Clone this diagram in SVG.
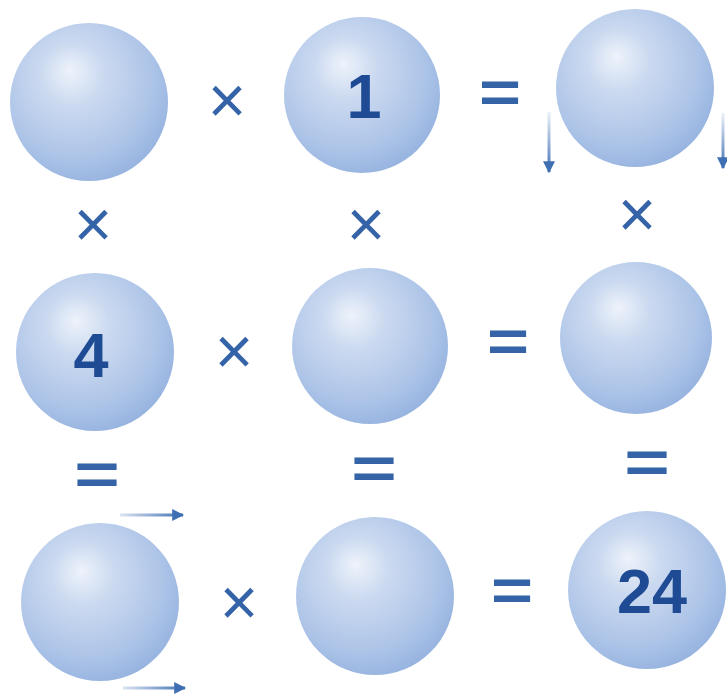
<svg xmlns="http://www.w3.org/2000/svg" width="727" height="697" viewBox="0 0 727 697">
<defs>
<radialGradient id="ball" cx="0.42" cy="0.38" r="0.64" fx="0.38" fy="0.3">
<stop offset="0" stop-color="#eef3fb"/>
<stop offset="0.3" stop-color="#ccdaf0"/>
<stop offset="0.75" stop-color="#aec5e8"/>
<stop offset="1" stop-color="#97b4e0"/>
</radialGradient>
<linearGradient id="v1" gradientUnits="userSpaceOnUse" x1="0" y1="112" x2="0" y2="172">
<stop offset="0" stop-color="#4a78b8" stop-opacity="0.1"/>
<stop offset="1" stop-color="#3f6fb3"/>
</linearGradient>
<linearGradient id="v2" gradientUnits="userSpaceOnUse" x1="0" y1="113" x2="0" y2="168">
<stop offset="0" stop-color="#4a78b8" stop-opacity="0.1"/>
<stop offset="1" stop-color="#3f6fb3"/>
</linearGradient>
<linearGradient id="h1" gradientUnits="userSpaceOnUse" x1="120" y1="0" x2="183" y2="0">
<stop offset="0" stop-color="#4a78b8" stop-opacity="0.2"/>
<stop offset="1" stop-color="#3f6fb3"/>
</linearGradient>
<linearGradient id="h2" gradientUnits="userSpaceOnUse" x1="123" y1="0" x2="185" y2="0">
<stop offset="0" stop-color="#4a78b8" stop-opacity="0.2"/>
<stop offset="1" stop-color="#3f6fb3"/>
</linearGradient>
<marker id="ah" viewBox="0 0 10 10" refX="9" refY="5" markerWidth="4" markerHeight="4" orient="auto" markerUnits="strokeWidth">
<path d="M0,0 L10,5 L0,10 z" fill="#3f6fb3"/>
</marker>
</defs>
<style>
.ball{fill:url(#ball)}
.op{font-family:"Liberation Sans",Arial,sans-serif;fill:#3563a8;text-anchor:middle}
.x{font-size:66px}
.eq{font-size:60px;font-weight:bold}
.num{font-family:"Liberation Sans",Arial,sans-serif;font-weight:bold;font-size:63px;fill:#1f4b95;text-anchor:middle}
</style>
<rect width="727" height="697" fill="#ffffff"/>
<g id="n11"><circle class="ball" cx="89" cy="102" r="79"/></g>
<g id="n12"><circle class="ball" cx="362" cy="95" r="78"/><text class="num" x="364" y="118">1</text></g>
<g id="n13"><circle class="ball" cx="635" cy="88" r="79"/></g>
<g id="n21"><circle class="ball" cx="95" cy="352" r="79"/><text class="num" x="91" y="377">4</text></g>
<g id="n22"><circle class="ball" cx="370" cy="346" r="78"/></g>
<g id="n23"><circle class="ball" cx="636" cy="338" r="76"/></g>
<g id="n31"><circle class="ball" cx="100" cy="602" r="79"/></g>
<g id="n32"><circle class="ball" cx="375" cy="596" r="79"/></g>
<g id="n33"><circle class="ball" cx="647" cy="590" r="79"/><text class="num" x="652" y="613">24</text></g>
<g id="ops">
<text class="op x" x="227" y="123">×</text>
<text class="op eq" x="500" y="112" transform="translate(500 0) scale(1.2 1) translate(-500 0)">=</text>
<text class="op x" x="93" y="247">×</text>
<text class="op x" x="366" y="247">×</text>
<text class="op x" x="637" y="237">×</text>
<text class="op x" x="234" y="374">×</text>
<text class="op eq" x="508" y="361" transform="translate(508 0) scale(1.2 1) translate(-508 0)">=</text>
<text class="op eq" x="97" y="494" transform="translate(97 0) scale(1.3 1) translate(-97 0)">=</text>
<text class="op eq" x="374" y="488" transform="translate(374 0) scale(1.3 1) translate(-374 0)">=</text>
<text class="op eq" x="647" y="482" transform="translate(647 0) scale(1.3 1) translate(-647 0)">=</text>
<text class="op x" x="239" y="625">×</text>
<text class="op eq" x="512" y="610" transform="translate(512 0) scale(1.2 1) translate(-512 0)">=</text>
</g>
<g id="connectors" fill="none" stroke-width="3">
<path d="M549,112 V172" stroke="url(#v1)" marker-end="url(#ah)"/>
<path d="M723,113 V168" stroke="url(#v2)" marker-end="url(#ah)"/>
<path d="M120,515 H183" stroke="url(#h1)" marker-end="url(#ah)"/>
<path d="M123,688 H185" stroke="url(#h2)" marker-end="url(#ah)"/>
</g>
</svg>
